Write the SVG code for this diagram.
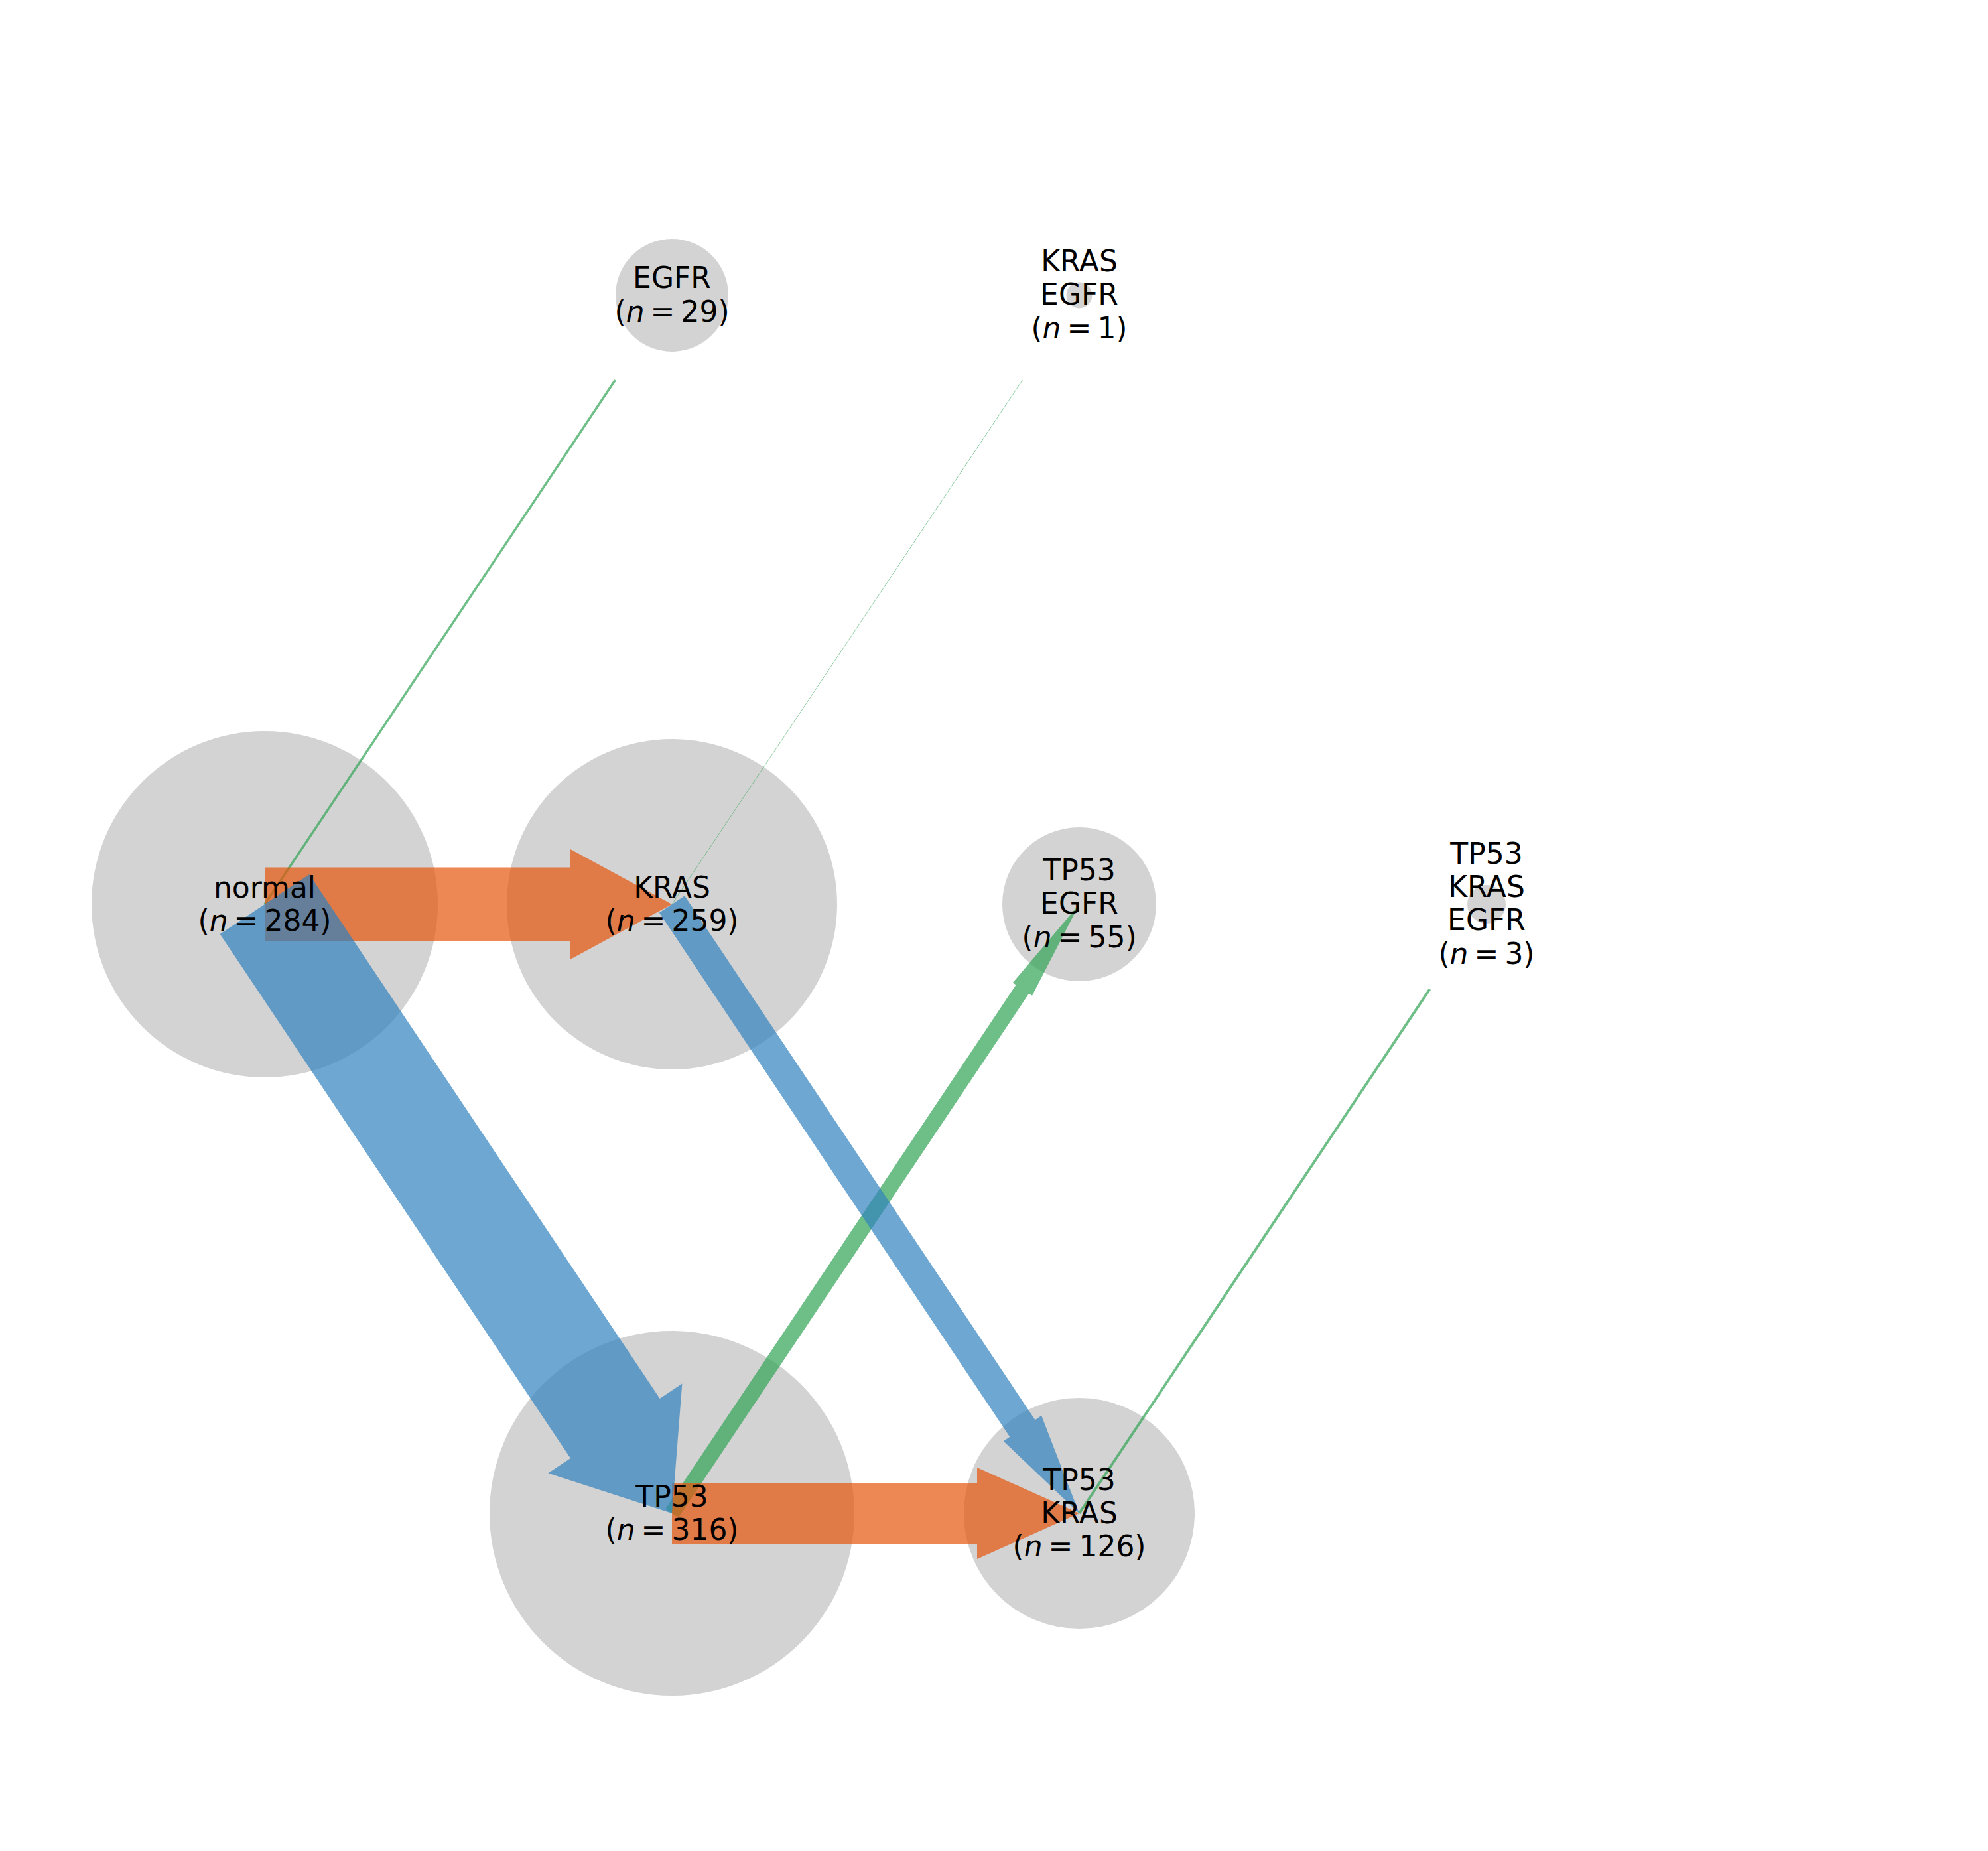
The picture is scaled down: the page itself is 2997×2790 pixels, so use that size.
<svg xmlns="http://www.w3.org/2000/svg" width="2997" height="2790" viewBox="0 0 2997 2790">
<style>
.node{fill:#d3d3d3}
.lbl{font-family:"DejaVu Sans",sans-serif;font-size:44px;fill:#000;text-anchor:middle}
.it{font-style:italic}
.g{fill:#31a354;fill-opacity:0.7}
.gl{stroke:#31a354;stroke-opacity:0.7;fill:none;stroke-linecap:butt}
.o{fill:#e6550d;fill-opacity:0.7}
.b{fill:#3182bd;fill-opacity:0.7}
</style>
<rect width="2997" height="2790" fill="#ffffff"/>
<g id="nodes-shapes">
<circle id="c-normal" class="node" cx="399" cy="1363" r="261"/>
<circle id="c-kras" class="node" cx="1013" cy="1363" r="249"/>
<circle id="c-egfr" class="node" cx="1013" cy="445" r="85"/>
<circle id="c-kras-egfr" class="node" cx="1627" cy="445" r="19.5"/>
<circle id="c-tp53-egfr" class="node" cx="1627" cy="1363" r="116"/>
<circle id="c-tp53-kras-egfr" class="node" cx="2241" cy="1363" r="29"/>
<circle id="c-tp53" class="node" cx="1013" cy="2281" r="275"/>
<circle id="c-tp53-kras" class="node" cx="1627" cy="2281" r="174"/>
</g>
<g id="connectors">
<line class="gl" x1="399" y1="1363" x2="927.4" y2="573" stroke-width="3.5"/>
<line class="gl" x1="1013" y1="1363" x2="1541.4" y2="573" stroke-width="0.8"/>
<line class="gl" x1="1627" y1="2281" x2="2155.4" y2="1491" stroke-width="4"/>
<polygon class="g" points="1022.77,2287.53 1551.15,1497.54 1556.01,1500.80 1627,1363 1526.75,1481.23 1531.61,1484.48 1003.23,2274.47"/>
<polygon class="o" points="399,1307.5 859,1307.5 859,1279.5 1013,1363 859,1446.5 859,1418.5 399,1418.5"/>
<polygon class="o" points="1013,2235 1473,2235 1473,2212 1627,2281 1473,2350 1473,2327 1013,2327"/>
<polygon class="b" points="331.67,1408.03 860.05,2198.02 826.39,2220.54 1013,2281 1028.37,2085.44 994.71,2107.96 466.33,1317.97"/>
<polygon class="b" points="993.88,1375.79 1522.26,2165.78 1512.70,2172.17 1627,2281 1570.06,2133.81 1560.50,2140.20 1032.12,1350.21"/>
</g>
<g id="node-normal"><text class="lbl"><tspan x="399" y="1353">normal</tspan><tspan x="399" y="1403">(<tspan class="it">n</tspan><tspan dx="9">=</tspan><tspan dx="9">284)</tspan></tspan></text></g>
<g id="node-kras"><text class="lbl"><tspan x="1013" y="1353">KRAS</tspan><tspan x="1013" y="1403">(<tspan class="it">n</tspan><tspan dx="9">=</tspan><tspan dx="9">259)</tspan></tspan></text></g>
<g id="node-egfr"><text class="lbl"><tspan x="1013" y="434">EGFR</tspan><tspan x="1013" y="485">(<tspan class="it">n</tspan><tspan dx="9">=</tspan><tspan dx="9">29)</tspan></tspan></text></g>
<g id="node-kras-egfr"><text class="lbl"><tspan x="1627" y="409">KRAS</tspan><tspan x="1627" y="459">EGFR</tspan><tspan x="1627" y="510">(<tspan class="it">n</tspan><tspan dx="9">=</tspan><tspan dx="9">1)</tspan></tspan></text></g>
<g id="node-tp53-egfr"><text class="lbl"><tspan x="1627" y="1327">TP53</tspan><tspan x="1627" y="1377">EGFR</tspan><tspan x="1627" y="1428">(<tspan class="it">n</tspan><tspan dx="9">=</tspan><tspan dx="9">55)</tspan></tspan></text></g>
<g id="node-tp53-kras-egfr"><text class="lbl"><tspan x="2241" y="1302">TP53</tspan><tspan x="2241" y="1352">KRAS</tspan><tspan x="2241" y="1402">EGFR</tspan><tspan x="2241" y="1453">(<tspan class="it">n</tspan><tspan dx="9">=</tspan><tspan dx="9">3)</tspan></tspan></text></g>
<g id="node-tp53"><text class="lbl"><tspan x="1013" y="2271">TP53</tspan><tspan x="1013" y="2321">(<tspan class="it">n</tspan><tspan dx="9">=</tspan><tspan dx="9">316)</tspan></tspan></text></g>
<g id="node-tp53-kras"><text class="lbl"><tspan x="1627" y="2246">TP53</tspan><tspan x="1627" y="2296">KRAS</tspan><tspan x="1627" y="2346">(<tspan class="it">n</tspan><tspan dx="9">=</tspan><tspan dx="9">126)</tspan></tspan></text></g>
</svg>
